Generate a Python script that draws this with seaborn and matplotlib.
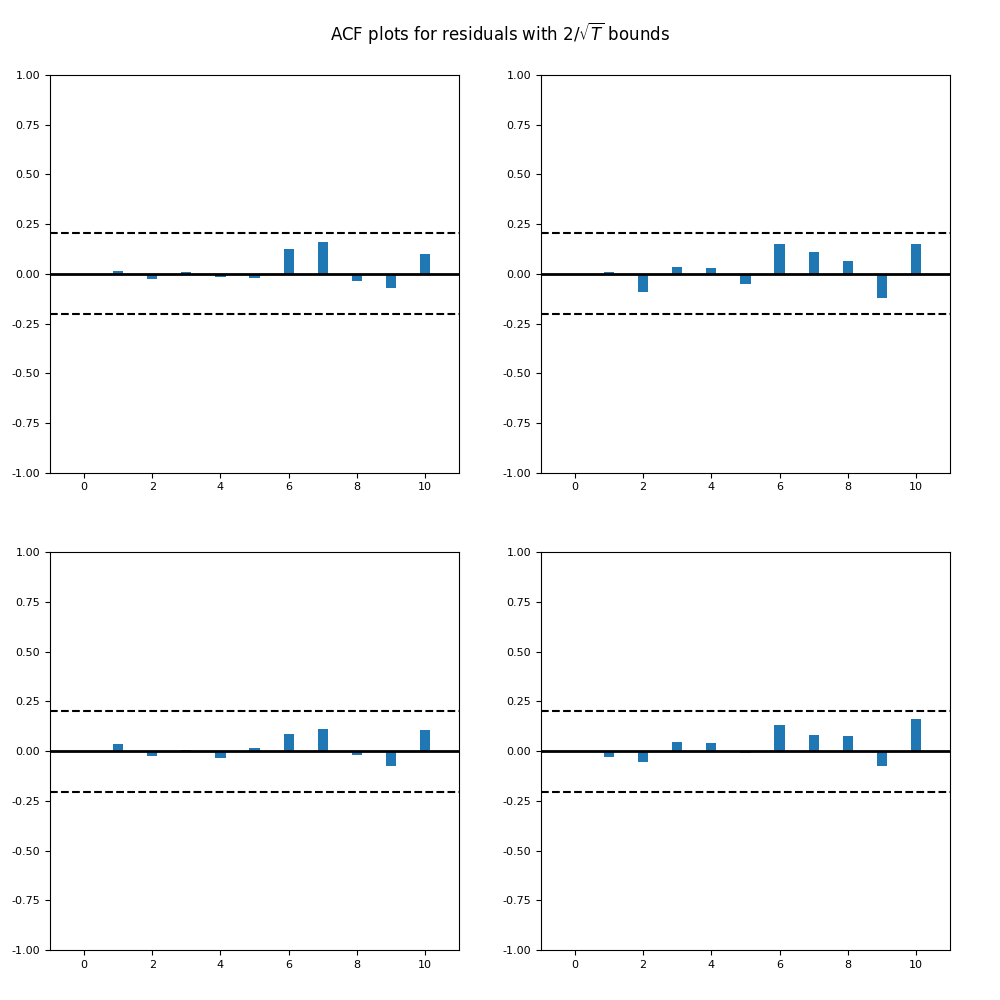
import numpy as np
import pandas as pd
import matplotlib
matplotlib.use("Agg")
import matplotlib.pyplot as plt
import seaborn as sns

# Lags shown in each panel (lag 0 left out)
lags = list(range(1, 11))

# Residual autocorrelations, one list per panel
acf_top_left = [0.015, -0.025, 0.007, -0.015, -0.02, 0.126, 0.161, -0.035, -0.072, 0.102]
acf_top_right = [0.007, -0.092, 0.032, 0.027, -0.052, 0.152, 0.112, 0.067, -0.122, 0.152]
acf_bottom_left = [0.034, -0.025, 0.008, -0.035, 0.018, 0.084, 0.112, -0.02, -0.075, 0.107]
acf_bottom_right = [-0.03, -0.055, 0.044, 0.039, -0.01, 0.129, 0.079, 0.074, -0.075, 0.162]

# Sample size behind the 2/sqrt(T) bound
n_obs = 97
bound = 2 / np.sqrt(n_obs)

panels = [acf_top_left, acf_top_right, acf_bottom_left, acf_bottom_right]

fig, axes = plt.subplots(2, 2, figsize=(10, 10), dpi=100)
fig.subplots_adjust(left=0.05, right=0.95, bottom=0.05, top=0.925, wspace=0.2, hspace=0.2)

for ax, values in zip(axes.flat, panels):
    df = pd.DataFrame({"lag": lags, "acf": values})
    sns.barplot(data=df, x="lag", y="acf", native_scale=True, width=0.3,
                color="#1f77b4", saturation=1, linewidth=0, ax=ax)
    ax.axhline(0, color="black", linewidth=2)
    ax.axhline(bound, color="black", linestyle="--", linewidth=1.5)
    ax.axhline(-bound, color="black", linestyle="--", linewidth=1.5)
    ax.set_xlim(-1, 11)
    ax.set_ylim(-1, 1)
    ax.set_xticks(range(0, 11, 2))
    ax.set_yticks(np.arange(-1, 1.01, 0.25))
    ax.set_yticklabels([f"{t:.2f}" for t in np.arange(-1, 1.01, 0.25)])
    ax.tick_params(labelsize=8)
    ax.set_xlabel("")
    ax.set_ylabel("")

fig.suptitle(r"ACF plots for residuals with $2/\sqrt{T}$ bounds", fontsize=12)
plt.savefig("out.png")
